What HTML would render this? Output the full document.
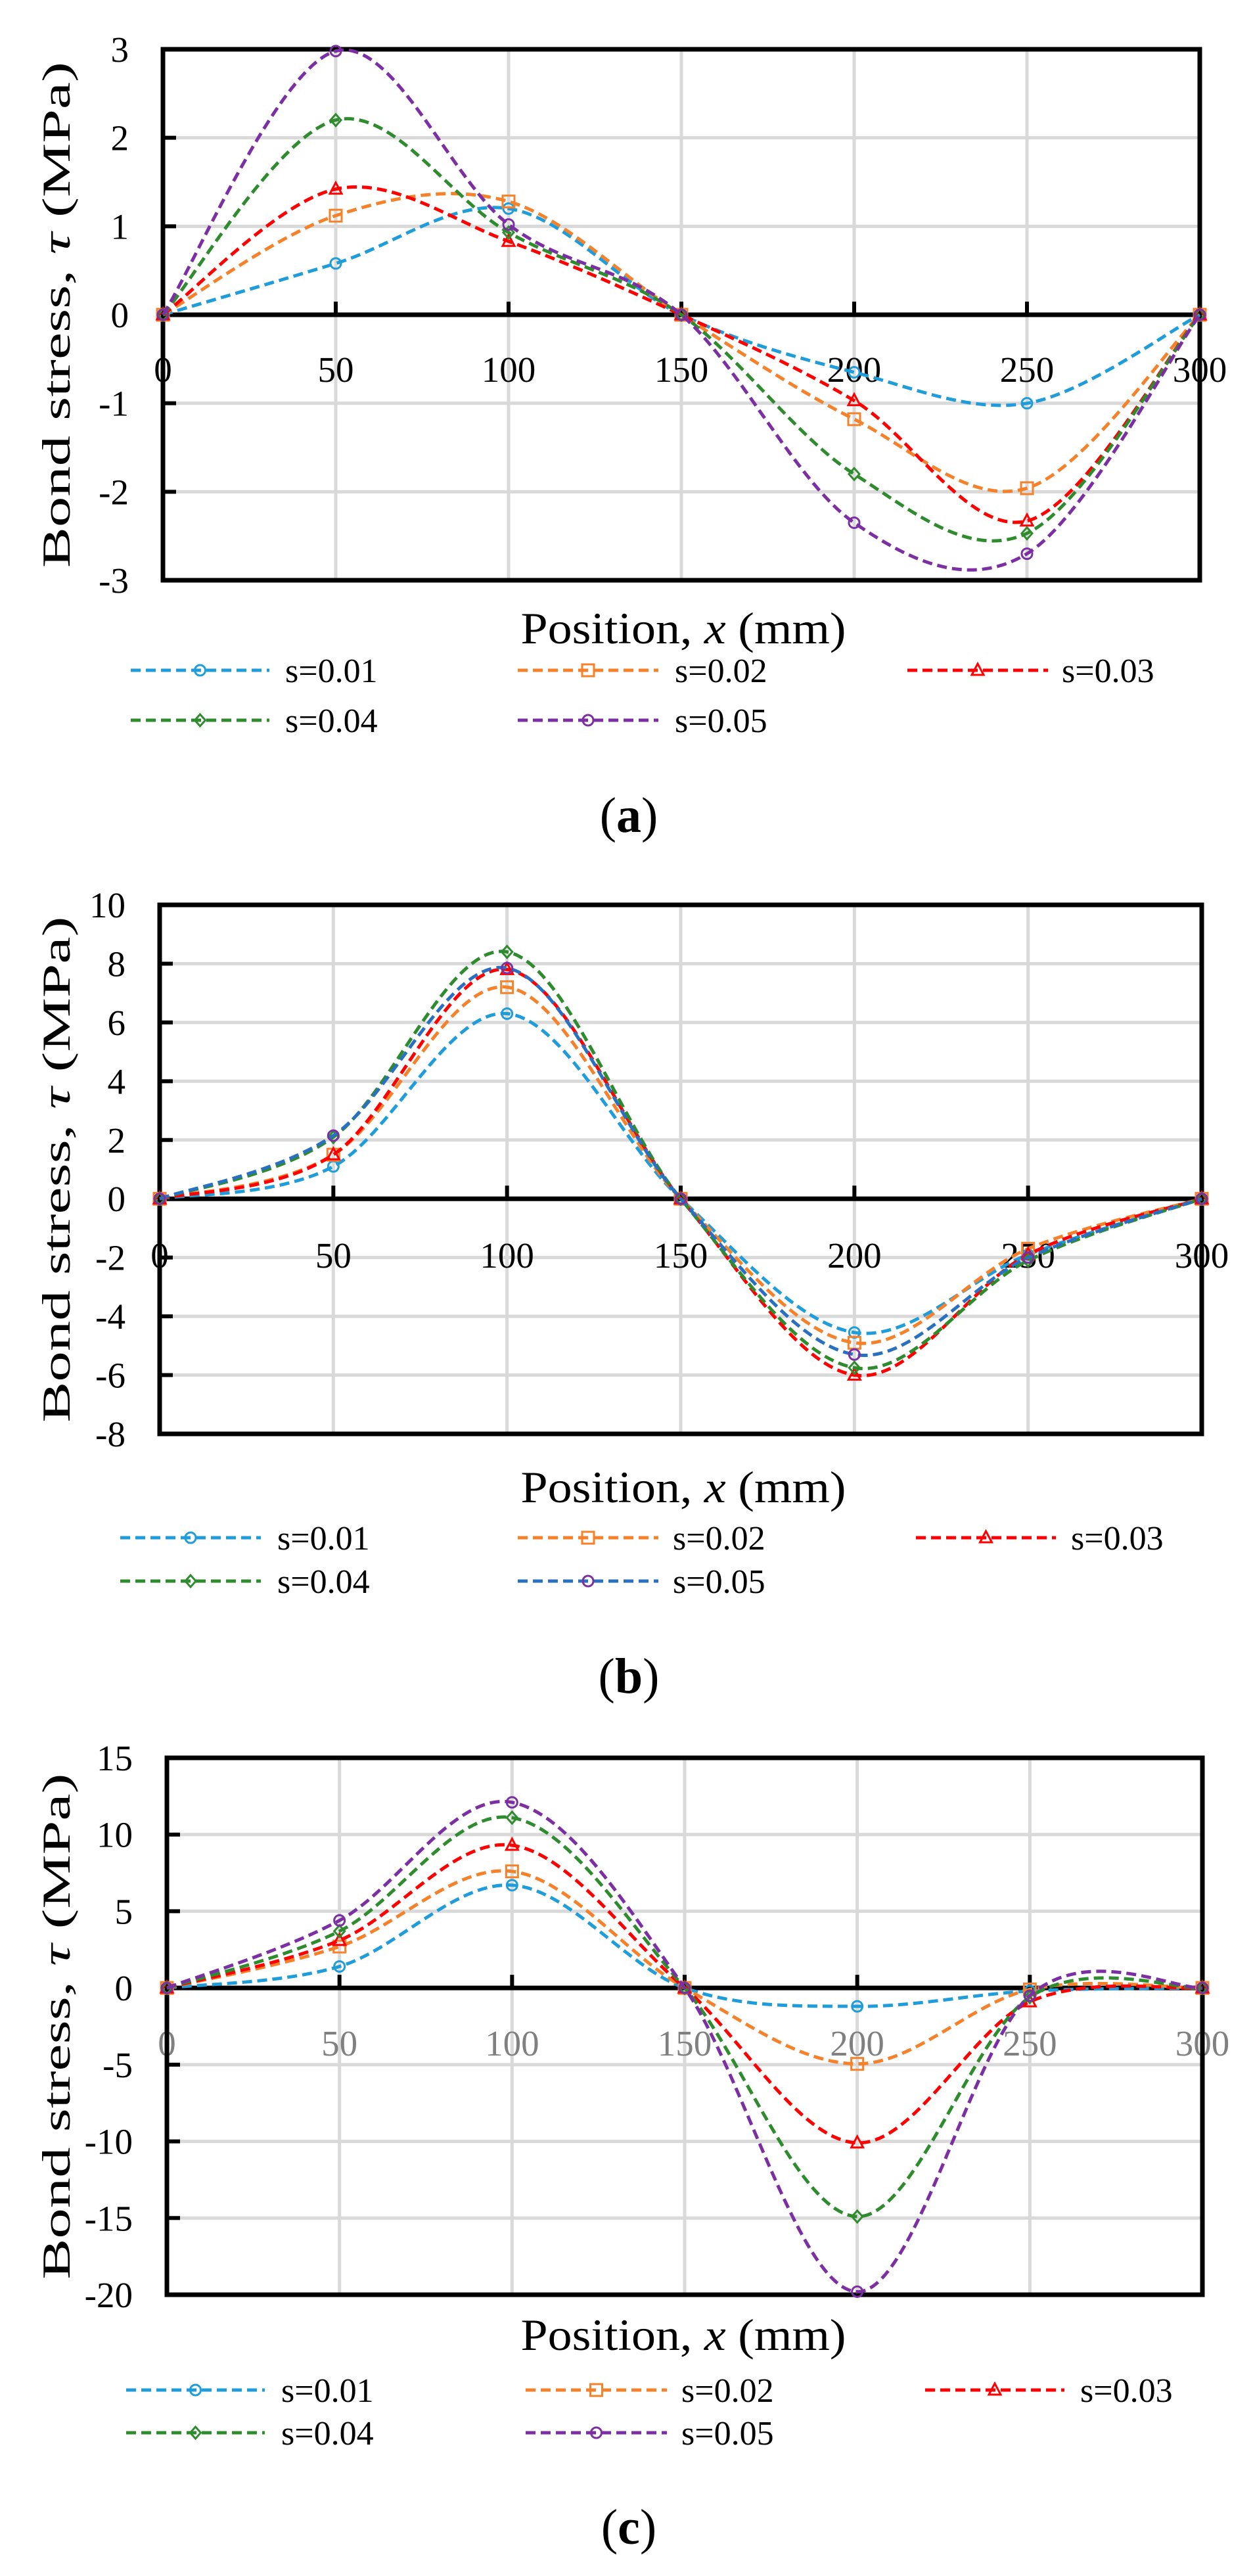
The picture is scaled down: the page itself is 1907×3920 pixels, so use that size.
<!DOCTYPE html>
<html><head><meta charset="utf-8"><style>
html,body{margin:0;padding:0;background:#fff;}
svg{display:block;}
text{font-family:"Liberation Serif",serif;}
</style></head><body>
<svg id="fig" width="1907" height="3920" viewBox="0 0 1907 3920" xmlns="http://www.w3.org/2000/svg"></svg>
<script>
const xCategories = [0, 50, 100, 150, 200, 250, 300];
const seriesNames = ["s=0.01", "s=0.02", "s=0.03", "s=0.04", "s=0.05"];
// Panel (a)
const aTicks = [3, 2, 1, 0, -1, -2, -3];
const aS01 = [0, 0.58, 1.2, 0, -0.65, -1.0, 0];
const aS02 = [0, 1.12, 1.28, 0, -1.18, -1.96, 0];
const aS03 = [0, 1.42, 0.83, 0, -0.97, -2.33, 0];
const aS04 = [0, 2.2, 0.93, 0, -1.8, -2.47, 0];
const aS05 = [0, 2.98, 1.02, 0, -2.35, -2.7, 0];
// Panel (b)
const bTicks = [10, 8, 6, 4, 2, 0, -2, -4, -6, -8];
const bS01 = [0, 1.1, 6.3, 0, -4.55, -1.9, 0];
const bS02 = [0, 1.5, 7.2, 0, -4.9, -1.7, 0];
const bS03 = [0, 1.5, 7.8, 0, -6.0, -1.9, 0];
const bS04 = [0, 2.1, 8.4, 0, -5.75, -2.1, 0];
const bS05 = [0, 2.15, 7.85, 0, -5.3, -2.0, 0];
// Panel (c)
const cTicks = [15, 10, 5, 0, -5, -10, -15, -20];
const cS01 = [0, 1.4, 6.7, 0, -1.2, -0.2, 0];
const cS02 = [0, 2.7, 7.6, 0, -4.95, -0.1, 0];
const cS03 = [0, 3.1, 9.3, 0, -10.1, -0.9, 0];
const cS04 = [0, 3.7, 11.1, 0, -14.9, -0.6, 0];
const cS05 = [0, 4.4, 12.1, 0, -19.8, -0.5, 0];

const NS = "http://www.w3.org/2000/svg";
const svg = document.getElementById("fig");
function mk(tag, attrs, parent) {
  const e = document.createElementNS(NS, tag);
  for (const k in attrs) e.setAttribute(k, attrs[k]);
  (parent || svg).appendChild(e);
  return e;
}
const markers = ["circle", "square", "triangle", "diamond", "circle"];
function drawMarker(g, type, x, y, color) {
  let m;
  if (type === "circle") m = mk("circle", {cx: x, cy: y, r: 8, fill: "none", stroke: color, "stroke-width": 3}, g);
  else if (type === "square") m = mk("rect", {x: x - 9, y: y - 9, width: 18, height: 18, fill: "none", stroke: color, "stroke-width": 3}, g);
  else if (type === "triangle") m = mk("polygon", {points: `${x},${y - 10} ${x + 9},${y + 7} ${x - 9},${y + 7}`, fill: "none", stroke: color, "stroke-width": 3}, g);
  else m = mk("polygon", {points: `${x},${y - 9} ${x + 8},${y} ${x},${y + 9} ${x - 8},${y}`, fill: "none", stroke: color, "stroke-width": 3}, g);
  
  
}
function smoothPath(pts) {
  let d = `M${pts[0][0]},${pts[0][1]}`;
  for (let i = 0; i < pts.length - 1; i++) {
    const p0 = pts[Math.max(0, i - 1)], p1 = pts[i], p2 = pts[i + 1], p3 = pts[Math.min(pts.length - 1, i + 2)];
    const c1x = p1[0] + (p2[0] - p0[0]) / 6, c1y = p1[1] + (p2[1] - p0[1]) / 6;
    const c2x = p2[0] - (p3[0] - p1[0]) / 6, c2y = p2[1] - (p3[1] - p1[1]) / 6;
    d += ` C${c1x},${c1y} ${c2x},${c2y} ${p2[0]},${p2[1]}`;
  }
  return d;
}

function panel(cfg) {
  const g = mk("g", {});
  
  
  const ymax = cfg.ticks[0], ymin = cfg.ticks[cfg.ticks.length - 1];
  const xs = v => cfg.L + (v - 0) / 300 * (cfg.R - cfg.L);
  const ys = v => cfg.T + (ymax - v) / (ymax - ymin) * (cfg.B - cfg.T);
  cfg.ticks.forEach(t => {
    if (t === ymax || t === ymin || t === 0) return;
    const l = mk("line", {x1: cfg.L, x2: cfg.R, y1: ys(t), y2: ys(t), stroke: "#d9d9d9", "stroke-width": 5}, g);
    
    
  });
  xCategories.forEach(c => {
    if (c === 0 || c === 300) return;
    const l = mk("line", {x1: xs(c), x2: xs(c), y1: cfg.T, y2: cfg.B, stroke: "#d9d9d9", "stroke-width": 5}, g);
    
    
  });
  cfg.ticks.forEach(t => {
    const l = mk("line", {x1: cfg.L, x2: cfg.L + 20, y1: ys(t), y2: ys(t), stroke: "#000", "stroke-width": 6}, g);
    
    
    const tx = mk("text", {x: cfg.L - 52, y: ys(t) + 19, "text-anchor": "end", "font-size": 55, fill: "#000"}, g);
    tx.textContent = String(t);
    
    
  });
  const z = mk("line", {x1: cfg.L, x2: cfg.R, y1: ys(0), y2: ys(0), stroke: "#000", "stroke-width": 7}, g);
  
  
  xCategories.forEach(c => {
    const l = mk("line", {x1: xs(c), x2: xs(c), y1: ys(0) - 20, y2: ys(0), stroke: "#000", "stroke-width": 6}, g);
    
    
    const tx = mk("text", {x: xs(c), y: cfg.xLabY + 19, "text-anchor": "middle", "font-size": 55, fill: cfg.xLabColor}, g);
    tx.textContent = c;
    
    
  });
  const fr = mk("rect", {x: cfg.L, y: cfg.T, width: cfg.R - cfg.L, height: cfg.B - cfg.T, fill: "none", stroke: "#000", "stroke-width": 7}, g);
  
  
  cfg.series.forEach((s, i) => {
    const pts = s.map((v, k) => [xs(xCategories[k]), ys(v)]);
    const p = mk("path", {d: smoothPath(pts), fill: "none", stroke: cfg.lineColors[i], "stroke-width": 5, "stroke-dasharray": "15 8"}, g);
    
    
    pts.forEach(pt => drawMarker(g, markers[i], pt[0], pt[1], cfg.markerColors[i]));
  });
  const yc = (cfg.T + cfg.B) / 2;
  const yt = mk("text", {x: 92, y: yc, transform: `rotate(-90 92 ${yc})`, "text-anchor": "middle", "dominant-baseline": "middle", "font-size": 60, fill: "#000", textLength: 770, lengthAdjust: "spacingAndGlyphs"}, g);
  yt.innerHTML = 'Bond stress, <tspan font-style="italic">τ</tspan> (MPa)';
  
  
  const xt = mk("text", {x: 1040, y: cfg.xTitleY + 22, "text-anchor": "middle", "font-size": 68, fill: "#000", textLength: 495, lengthAdjust: "spacingAndGlyphs"}, g);
  xt.innerHTML = 'Position, <tspan font-style="italic">x</tspan> (mm)';
  
  
  for (let i = 0; i < 5; i++) {
    const col = cfg.legendCols[i % 3], row = Math.floor(i / 3);
    const y = cfg.legendRows[row];
    const lg = mk("g", {}, g);
    
    
    mk("line", {x1: col[0], x2: col[1], y1: y, y2: y, stroke: cfg.lineColors[i], "stroke-width": 5, "stroke-dasharray": "15 8"}, lg);
    drawMarker(lg, markers[i], (col[0] + col[1]) / 2, y, cfg.markerColors[i]);
    const tx = mk("text", {x: col[2], y: y + 18, "font-size": 52, fill: "#000"}, lg);
    tx.textContent = seriesNames[i];
  }
  const cap = mk("text", {x: 957, y: cfg.capY + 26, "text-anchor": "middle", "font-size": 76, fill: "#000"}, g);
  cap.innerHTML = '(<tspan font-weight="bold">' + cfg.id + '</tspan>)';
  
  
}

const cStd = ["#1f9ddb", "#f5822a", "#ff0000", "#2e8b2e", "#7b2fa3"];
panel({id: "a", L: 248, R: 1826, T: 75, B: 883, ticks: aTicks, series: [aS01, aS02, aS03, aS04, aS05],
  lineColors: cStd, markerColors: cStd, xLabY: 562, xLabColor: "#000", xTitleY: 957,
  legendRows: [1020, 1096], legendCols: [[199, 410, 434], [788, 1002, 1027], [1381, 1595, 1616]], capY: 1240});
panel({id: "b", L: 243, R: 1829, T: 1377, B: 2182, ticks: bTicks, series: [bS01, bS02, bS03, bS04, bS05],
  lineColors: ["#1f9ddb", "#f5822a", "#ff0000", "#2e8b2e", "#2a70c0"], markerColors: cStd, xLabY: 1910, xLabColor: "#000", xTitleY: 2264,
  legendRows: [2340, 2406], legendCols: [[183, 397, 422], [788, 1002, 1024], [1394, 1607, 1630]], capY: 2550});
panel({id: "c", L: 254, R: 1830, T: 2675, B: 3492, ticks: cTicks, series: [cS01, cS02, cS03, cS04, cS05],
  lineColors: cStd, markerColors: cStd, xLabY: 3109, xLabColor: "#808080", xTitleY: 3554,
  legendRows: [3637, 3702], legendCols: [[192, 403, 428], [800, 1015, 1037], [1408, 1620, 1644]], capY: 3845});
</script>
</body></html>
